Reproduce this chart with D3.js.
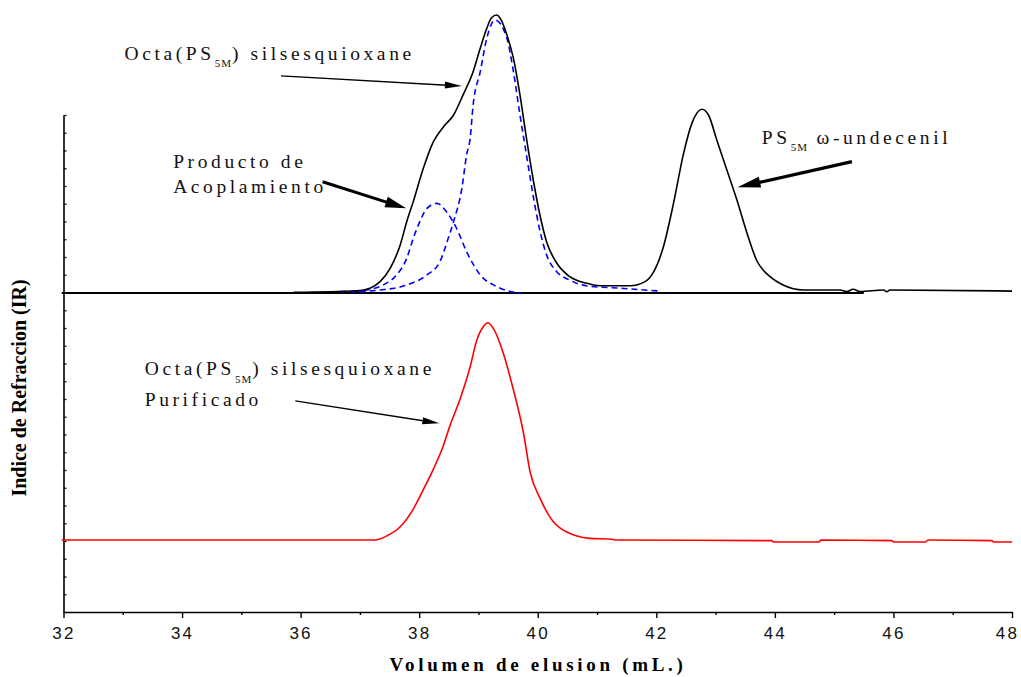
<!DOCTYPE html>
<html><head><meta charset="utf-8">
<script src="https://cdn.jsdelivr.net/npm/d3@7"></script>
<style>body{margin:0;background:#fff}svg{display:block}</style>
</head><body>
<svg id="c" width="1021" height="677"></svg>
<script>
// ---- data (x: elution volume mL, y: detector units) ----
const xTicks = [32,34,36,38,40,42,44,46,48];
const xMinorTicks = [33,35,37,39,41,43,45,47];

const crudeX = [35.88,36.95,37.17,37.34,37.51,37.68,37.79,37.90,38.07,38.24,38.41,38.58,38.74,38.91,39.03,39.14,39.22,39.31,39.36,39.48,39.59,39.70,39.81,39.93,40.04,40.15,40.32,40.54,40.83,41.05,41.56,41.81,41.95,42.12,42.29,42.46,42.60,42.77,42.88,43.02,43.19,43.36,43.53,43.69,43.92,44.14,44.48,45.10,45.21,45.32,45.44,45.83,45.89,45.94,48.0];
const crudeY = [18.01,18.10,18.24,18.61,19.36,20.68,21.99,23.12,25.00,26.50,27.34,28.00,29.13,30.44,31.76,32.88,33.48,33.63,33.48,32.51,31.19,29.13,26.69,24.24,22.31,20.85,19.66,18.89,18.52,18.38,18.38,18.61,19.13,20.58,23.02,25.84,27.53,28.32,28.00,26.59,24.90,23.21,21.34,19.83,18.89,18.42,18.14,18.14,18.05,18.18,18.05,18.14,18.05,18.14,18.08];

const fitMainX = [36.66,36.95,37.34,37.79,38.13,38.35,38.49,38.58,38.72,38.80,38.86,38.91,39.03,39.14,39.28,39.48,39.59,39.70,39.81,39.93,40.04,40.15,40.32,40.54,40.83,41.39,42.06];
const fitMainY = [18.05,18.05,18.14,18.42,18.99,19.74,21.05,21.99,23.87,25.75,26.69,28.56,30.44,32.32,33.35,32.32,30.44,28.00,25.75,23.31,21.43,20.11,19.17,18.70,18.37,18.24,18.08];

const fitCouplingX = [36.90,37.11,37.39,37.62,37.79,37.90,38.01,38.13,38.30,38.46,38.63,38.80,39.03,39.31,39.72];
const fitCouplingY = [18.05,18.14,18.42,18.99,19.93,21.05,21.99,22.74,23.02,22.55,21.62,20.30,18.99,18.33,17.95];

const baselineX = [31.97, 45.5];
const baselineY = [17.97, 17.97];

const pureX = [31.97,37.25,37.45,37.68,37.90,38.07,38.24,38.41,38.52,38.69,38.86,38.97,39.08,39.16,39.25,39.42,39.59,39.76,39.87,40.04,40.16,40.27,40.38,40.66,40.88,41.25,41.29,43.95,43.97,44.75,44.77,45.97,46.01,46.53,46.59,47.66,47.69,48.0];
const pureY = [4.06,4.06,4.28,4.80,5.80,6.90,8.05,9.40,10.50,12.00,13.82,15.30,16.07,16.30,15.98,14.57,12.51,10.07,7.90,6.40,5.60,5.05,4.72,4.28,4.15,4.10,4.06,4.02,3.94,3.94,4.06,4.02,3.94,3.94,4.06,4.02,3.94,3.94];

const svg = d3.select("#c");
const x = d3.scaleLinear().domain([32,48]).range([63.5,1012]);
const y = d3.scaleLinear().domain([0,28]).range([612,115]);
const yMinor = d3.range(0,29,1);

const serif = "'Liberation Serif','Times New Roman',serif";
const sans = "'Liberation Sans',Arial,sans-serif";

// axes
const xAxis = svg.append("g").attr("transform",`translate(0,${y(0)})`)
  .call(d3.axisBottom(x).tickValues(xTicks).tickSize(6).tickSizeOuter(0).tickFormat(d3.format("d")));
xAxis.select(".domain").attr("stroke","#000").attr("stroke-width",1.6);
xAxis.selectAll(".tick line").attr("stroke-width",1.4);
xAxis.selectAll(".tick text").attr("font-family",sans).attr("font-size",17)
  .attr("letter-spacing","2.2px").attr("dy","1.05em")
  .attr("dx",d=>d===48?"-5px":"0px").attr("fill","#111");
const xMinorAxis = svg.append("g").attr("transform",`translate(0,${y(0)})`)
  .call(d3.axisBottom(x).tickValues(xMinorTicks).tickSize(3).tickSizeOuter(0).tickFormat(""));
xMinorAxis.select(".domain").remove();
xMinorAxis.selectAll(".tick line").attr("stroke-width",1.4);

const yAxis = svg.append("g").attr("transform",`translate(${x(32)},0)`)
  .call(d3.axisRight(y).tickValues(yMinor).tickSize(3).tickSizeOuter(0).tickFormat(""));
yAxis.select(".domain").attr("stroke","#000").attr("stroke-width",1.6);
yAxis.selectAll(".tick line").attr("stroke-width",1.2);

// axis titles
svg.append("text").attr("x",538).attr("y",671).attr("text-anchor","middle")
  .attr("font-family",serif).attr("font-weight","bold").attr("font-size",19)
  .attr("letter-spacing","3.7px").text("Volumen de elusion (mL.)");
svg.append("text").attr("transform","translate(26,388) rotate(-90)").attr("text-anchor","middle")
  .attr("font-family",serif).attr("font-weight","bold").attr("font-size",20)
  .text("Indice de Refraccion (IR)");

// curves
const line = d3.line().x(d=>x(d[0])).y(d=>y(d[1])).curve(d3.curveMonotoneX);
const zip = (a,b)=>a.map((v,i)=>[v,b[i]]);

svg.append("path").datum(zip(baselineX,baselineY)).attr("d",d3.line().x(d=>x(d[0])).y(d=>y(d[1])))
  .attr("fill","none").attr("stroke","#000").attr("stroke-width",2);
svg.append("path").datum(zip(pureX,pureY)).attr("d",line)
  .attr("fill","none").attr("stroke","#ff0000").attr("stroke-width",1.6);
svg.append("path").datum(zip(fitCouplingX,fitCouplingY)).attr("d",line)
  .attr("fill","none").attr("stroke","#0000ff").attr("stroke-width",1.6).attr("stroke-dasharray","6,4");
svg.append("path").datum(zip(fitMainX,fitMainY)).attr("d",line)
  .attr("fill","none").attr("stroke","#0000ff").attr("stroke-width",1.6).attr("stroke-dasharray","6,4");
svg.append("path").datum(zip(crudeX,crudeY)).attr("d",line)
  .attr("fill","none").attr("stroke","#000").attr("stroke-width",1.6);

// annotations
function label(px, py, parts){
  const t = svg.append("text").attr("x",px).attr("y",py).attr("font-family",serif)
    .attr("font-size",19.5).attr("letter-spacing","3.6px").attr("fill","#111");
  parts.forEach(p=>{
    if (p.sub) t.append("tspan").attr("font-size",11).attr("dy",7.5).attr("letter-spacing","1px").text(p.sub);
    else t.append("tspan").attr("dy",p.after? -7.5:0).text(p.t);
  });
}
function arrow(x0,y0,x1,y1,w,hl,hw){
  const X0=x(x0),Y0=y(y0),X1=x(x1),Y1=y(y1);
  const a=Math.atan2(Y1-Y0,X1-X0), ca=Math.cos(a), sa=Math.sin(a);
  const bx=X1-hl*ca, by=Y1-hl*sa;
  svg.append("line").attr("x1",X0).attr("y1",Y0).attr("x2",bx+2*ca).attr("y2",by+2*sa)
    .attr("stroke","#000").attr("stroke-width",w);
  svg.append("path").attr("d",`M${X1},${Y1}L${bx-hw*sa},${by+hw*ca}L${bx+hw*sa},${by-hw*ca}Z`).attr("fill","#000");
}
label(x(33.03),y(31.10),[{t:"Octa(PS"},{sub:"5M"},{t:") silsesquioxane",after:true}]);
label(x(33.85),y(25.0),[{t:"Producto de"}]);
label(x(33.85),y(23.62),[{t:"Acoplamiento"}]);
label(x(43.78),y(26.37),[{t:"PS"},{sub:"5M"},{t:" ω-undecenil",after:true}]);
label(x(33.37),y(13.35),[{t:"Octa(PS"},{sub:"5M"},{t:") silsesquioxane",after:true}]);
label(x(33.37),y(11.61),[{t:"Purificado"}]);

arrow(35.67,30.20,38.72,29.63,1.3,17,3.5);
arrow(36.37,24.24,37.78,22.74,3,21,5.5);
arrow(45.30,25.37,43.37,23.93,3.2,23,5.5);
arrow(35.91,11.90,38.34,10.63,1.3,17,3.5);
</script>
</body></html>
